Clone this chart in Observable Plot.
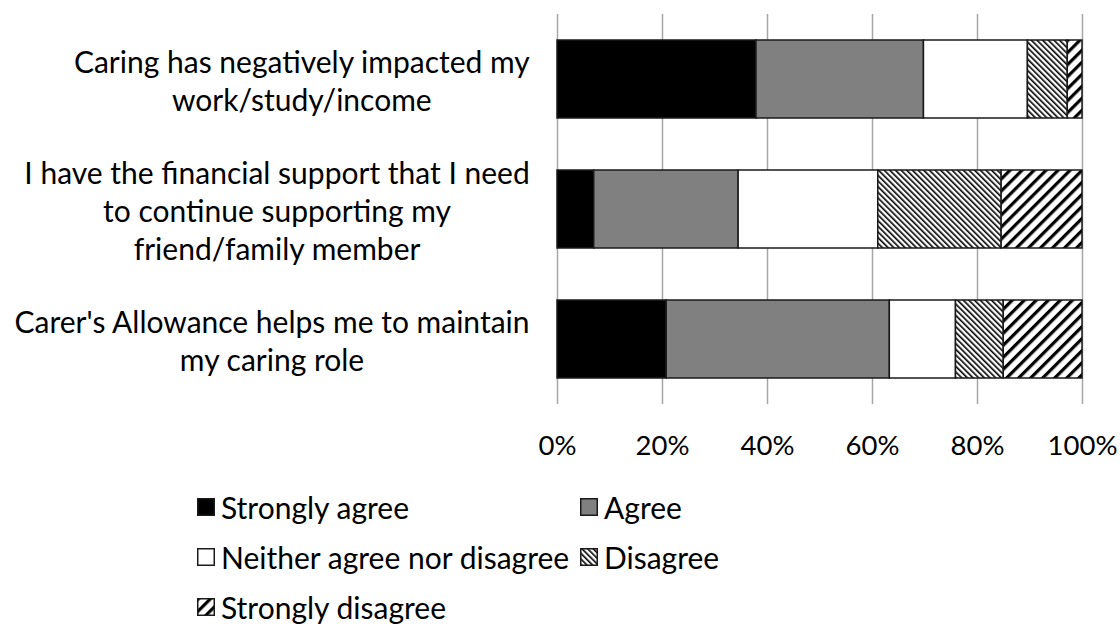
<!DOCTYPE html>
<html><head><meta charset="utf-8">
<script src="https://cdn.jsdelivr.net/npm/d3@7"></script>
<script src="https://cdn.jsdelivr.net/npm/@observablehq/plot@0.6"></script>
<style>
body{margin:0;background:#fff;font-family:Lato,"Open Sans",sans-serif;color:#000;}
#chart svg{display:block;font-family:Lato,"Open Sans",sans-serif;}
#legend{display:grid;grid-template-columns:383px auto;padding-left:197px;padding-top:7px;font-size:30px;line-height:50px;}
#legend .item{display:flex;align-items:center;white-space:nowrap;}
#legend svg{margin-right:6px;flex:none;}
</style></head><body>
<svg width="0" height="0" style="position:absolute">
  <defs>
    <pattern id="pat-disagree" patternUnits="userSpaceOnUse" width="4" height="4" patternTransform="rotate(-45)">
      <rect width="4" height="4" fill="#fff"/>
      <rect x="0" y="0" width="1.6" height="4" fill="#000"/>
    </pattern>
    <pattern id="pat-sdisagree" patternUnits="userSpaceOnUse" width="8.5" height="8.5" patternTransform="rotate(45)">
      <rect width="8.5" height="8.5" fill="#fff"/>
      <rect x="0" y="0" width="3.2" height="8.5" fill="#000"/>
    </pattern>
  </defs>
</svg>
<div id="chart"></div>
<div id="legend"></div>
<script>
const statements = [
  "Caring has negatively impacted my\nwork/study/income",
  "I have the financial support that I need\nto continue supporting my\nfriend/family member",
  "Carer's Allowance helps me to maintain\nmy caring role"
];
const responses = ["Strongly agree", "Agree", "Neither agree nor disagree", "Disagree", "Strongly disagree"];
const stronglyAgree = [37.9, 7.0, 20.8];
const agree = [31.9, 27.5, 42.5];
const neither = [19.8, 26.6, 12.6];
const disagree = [7.6, 23.5, 9.1];
const stronglyDisagree = [2.8, 15.4, 15.0];
const xTicks = [0, 20, 40, 60, 80, 100];
const fills = ["#000000", "#808080", "#ffffff", "url(#pat-disagree)", "url(#pat-sdisagree)"];

const series = [stronglyAgree, agree, neither, disagree, stronglyDisagree];
const data = [];
statements.forEach((s, i) => {
  responses.forEach((r, j) => data.push({statement: s, response: r, value: series[j][i]}));
});

const chart = Plot.plot({
  width: 1120,
  height: 475,
  marginLeft: 557,
  marginRight: 38,
  marginTop: 14,
  marginBottom: 71,
  style: {fontSize: "24px", fontFamily: "Lato, 'Open Sans', sans-serif", background: "#fff", color: "#000"},
  x: {domain: [0, 100], label: null},
  y: {domain: statements, paddingInner: 0.4, paddingOuter: 0.2, label: null},
  color: {domain: responses, range: fills},
  marks: [
    Plot.ruleX(xTicks, {stroke: "#a6a6a6", strokeWidth: 1.5}),
    Plot.barX(data, Plot.stackX({x: "value", y: "statement", fill: "response", stroke: "#1a1a1a", strokeWidth: 1.5, order: responses})),
    Plot.axisX({ticks: xTicks, tickFormat: d => d + "%", tickSize: 0, tickPadding: 31, fontSize: 27.5, label: null}),
    Plot.axisY({tickSize: 0, tickPadding: 28, fontSize: 30, lineHeight: 1.27, label: null})
  ]
});
document.getElementById("chart").appendChild(chart);

// center multi-line category labels as blocks (Excel style)
chart.querySelectorAll("g[aria-label='y-axis tick label'] text").forEach(t => {
  const bb = t.getBBox();
  const cx = bb.x + bb.width / 2;
  t.setAttribute("text-anchor", "middle");
  t.querySelectorAll("tspan").forEach(ts => ts.setAttribute("x", cx));
});

// legend
const legend = d3.select("#legend");
responses.forEach((r, j) => {
  const item = legend.append("div").attr("class", "item");
  const sw = item.append("svg").attr("width", 18).attr("height", 18);
  sw.append("rect").attr("x", 0.75).attr("y", 0.75).attr("width", 16.5).attr("height", 16.5)
    .attr("fill", fills[j]).attr("stroke", "#1a1a1a").attr("stroke-width", 1.5);
  item.append("span").text(r);
});
</script>
</body></html>
